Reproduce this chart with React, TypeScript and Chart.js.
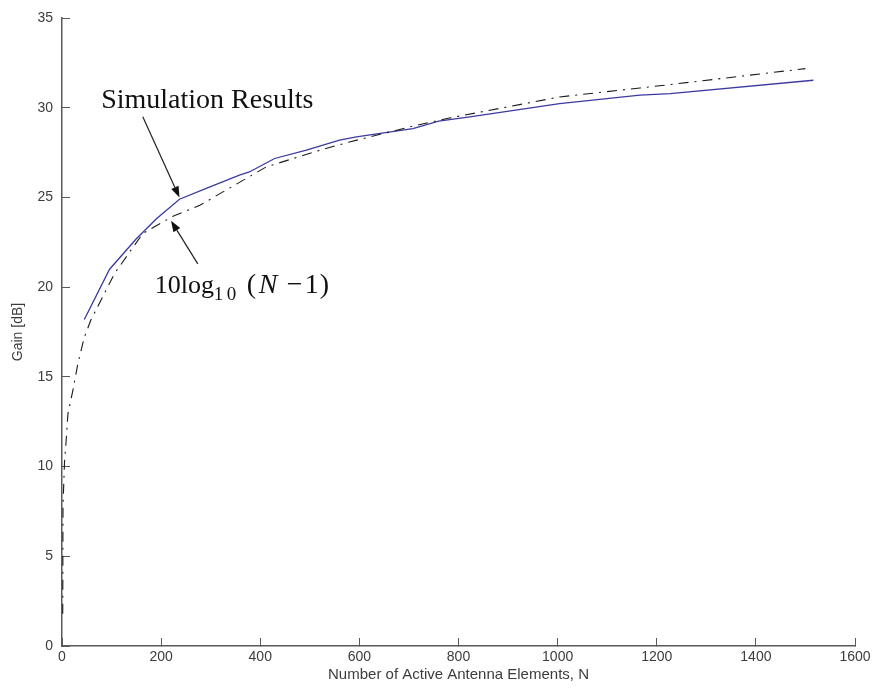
import { useEffect, useRef } from "react";
import { Chart, registerables } from "chart.js";

Chart.register(...registerables);

// Simulated array gain (solid blue)
const simN = [45, 96, 150, 190, 237, 291, 358, 378, 429, 493, 560, 594, 708, 760, 823, 1004, 1166, 1227, 1516];
const simGain = [18.2, 21.0, 22.7, 23.8, 24.9, 25.5, 26.24, 26.42, 27.17, 27.63, 28.19, 28.37, 28.84, 29.25, 29.49, 30.23, 30.7, 30.79, 31.53];

// Theoretical curve 10log10(N-1) (black dash-dot)
const refN = [1.5, 2, 5, 8, 12, 22, 32, 45, 58, 106, 163, 224, 278, 412, 520, 580, 715, 782, 1004, 1166, 1227, 1500];
const refGain = [1.8, 7.8, 10.2, 11.3, 12.95, 14.25, 15.74, 17.2, 18.15, 20.76, 22.99, 23.95, 24.56, 26.7, 27.63, 28.09, 29.02, 29.43, 30.6, 31.1, 31.29, 32.18];

const xMin = 0;
const xMax = 1600;
const xStep = 200;
const yMin = 0;
const yMax = 35;
const yStep = 5;

const xTitle = "Number of Active Antenna Elements, N";
const yTitle = "Gain [dB]";

// Callout labels anchored in data units
const simLabel = { text: "Simulation Results", n: 79, g: 30.0 };
const simArrow = { fromN: 163, fromG: 29.5, toN: 237, toG: 25.0 };
const refArrow = { fromN: 274, fromG: 21.3, toN: 220, toG: 23.7 };
const refLabel = { n: 187, g: 19.65 };

const axisColor = "#5a5a5a";
const textColor = "#3c3c3c";
const sansFamily = "'Liberation Sans', Arial, sans-serif";
const serifFamily = "'Liberation Serif', 'Times New Roman', serif";

function drawArrow(ctx: CanvasRenderingContext2D, x1: number, y1: number, x2: number, y2: number) {
  const ang = Math.atan2(y2 - y1, x2 - x1);
  const headLen = 11;
  const headHalf = 4;
  const bx = x2 - headLen * Math.cos(ang);
  const by = y2 - headLen * Math.sin(ang);
  ctx.beginPath();
  ctx.moveTo(x1, y1);
  ctx.lineTo(bx, by);
  ctx.strokeStyle = "#222";
  ctx.lineWidth = 1.2;
  ctx.stroke();
  ctx.beginPath();
  ctx.moveTo(x2, y2);
  ctx.lineTo(bx + headHalf * Math.sin(ang), by - headHalf * Math.cos(ang));
  ctx.lineTo(bx - headHalf * Math.sin(ang), by + headHalf * Math.cos(ang));
  ctx.closePath();
  ctx.fillStyle = "#111";
  ctx.fill();
}

const calloutPlugin = {
  id: "callouts",
  afterDatasetsDraw(chart: any) {
    const { ctx } = chart;
    const xs = chart.scales.x;
    const ys = chart.scales.y;
    const px = (v: number) => xs.getPixelForValue(v);
    const py = (v: number) => ys.getPixelForValue(v);
    ctx.save();

    ctx.fillStyle = "#111";
    ctx.textBaseline = "alphabetic";
    ctx.textAlign = "left";
    ctx.font = `28px ${serifFamily}`;
    ctx.fillText(simLabel.text, px(simLabel.n), py(simLabel.g));

    drawArrow(ctx, px(simArrow.fromN), py(simArrow.fromG), px(simArrow.toN), py(simArrow.toG));
    drawArrow(ctx, px(refArrow.fromN), py(refArrow.fromG), px(refArrow.toN), py(refArrow.toG));

    // 10log10(N - 1)
    const x0 = px(refLabel.n);
    const y0 = py(refLabel.g);
    ctx.font = `26px ${serifFamily}`;
    ctx.fillText("10log", x0, y0);
    ctx.font = `19px ${serifFamily}`;
    ctx.fillText("1", x0 + 59, y0 + 7);
    ctx.fillText("0", x0 + 72, y0 + 7);
    ctx.font = `28px ${serifFamily}`;
    ctx.fillText("(", x0 + 92, y0);
    ctx.font = `italic 28px ${serifFamily}`;
    ctx.fillText("N", x0 + 104, y0);
    ctx.font = `28px ${serifFamily}`;
    ctx.fillText("\u2212", x0 + 132, y0);
    ctx.fillText("1", x0 + 150, y0);
    ctx.fillText(")", x0 + 165, y0);

    ctx.restore();
  },
};

export default function App() {
  const canvasRef = useRef<HTMLCanvasElement | null>(null);

  useEffect(() => {
    const canvas = canvasRef.current;
    if (!canvas) return;
    const chart = new Chart(canvas, {
      type: "line",
      data: {
        datasets: [
          {
            label: "10log10(N-1)",
            data: refN.map((n, i) => ({ x: n, y: refGain[i] })),
            borderColor: "#1a1a1a",
            borderWidth: 1.1,
            borderDash: [10, 6, 2, 6],
            pointRadius: 0,
            tension: 0,
            fill: false,
          },
          {
            label: "Simulation Results",
            data: simN.map((n, i) => ({ x: n, y: simGain[i] })),
            borderColor: "#3a3aa0",
            borderWidth: 1.3,
            pointRadius: 0,
            tension: 0,
            fill: false,
          },
        ],
      },
      options: {
        animation: false,
        responsive: true,
        maintainAspectRatio: false,
        layout: { padding: { left: 0, right: 22, top: 18, bottom: 0 } },
        plugins: {
          legend: { display: false },
          tooltip: { enabled: false },
        },
        scales: {
          x: {
            type: "linear",
            min: xMin,
            max: xMax,
            afterFit: (s: any) => {
              s.height = 46;
              s.paddingRight = 0;
              s.paddingLeft = 0;
            },
            ticks: {
              stepSize: xStep,
              color: textColor,
              padding: 11,
              font: { family: sansFamily, size: 14 },
              maxRotation: 0,
              callback: (v: any) => String(v),
            },
            grid: {
              drawOnChartArea: false,
              drawTicks: true,
              tickLength: -8,
              color: axisColor,
              lineWidth: 1,
            },
            border: { display: true, color: axisColor, width: 1.5 },
            title: {
              display: true,
              text: xTitle,
              color: textColor,
              font: { family: sansFamily, size: 15 },
              padding: { top: 0, bottom: 8 },
            },
          },
          y: {
            type: "linear",
            min: yMin,
            max: yMax,
            afterFit: (s: any) => {
              s.width = 62;
              s.paddingTop = 0;
              s.paddingBottom = 0;
            },
            ticks: {
              stepSize: yStep,
              color: textColor,
              padding: 17,
              font: { family: sansFamily, size: 14 },
              callback: (v: any) => String(v),
            },
            grid: {
              drawOnChartArea: false,
              drawTicks: true,
              tickLength: -8,
              color: axisColor,
              lineWidth: 1,
            },
            border: { display: true, color: axisColor, width: 1.5 },
            title: {
              display: true,
              text: yTitle,
              color: textColor,
              font: { family: sansFamily, size: 14 },
              padding: { top: 10, bottom: 0 },
            },
          },
        },
      },
      plugins: [calloutPlugin],
    });
    return () => chart.destroy();
  }, []);

  return (
    <div style={{ position: "absolute", left: 0, top: 0, width: 877, height: 692, background: "#fff" }}>
      <canvas ref={canvasRef} />
    </div>
  );
}
